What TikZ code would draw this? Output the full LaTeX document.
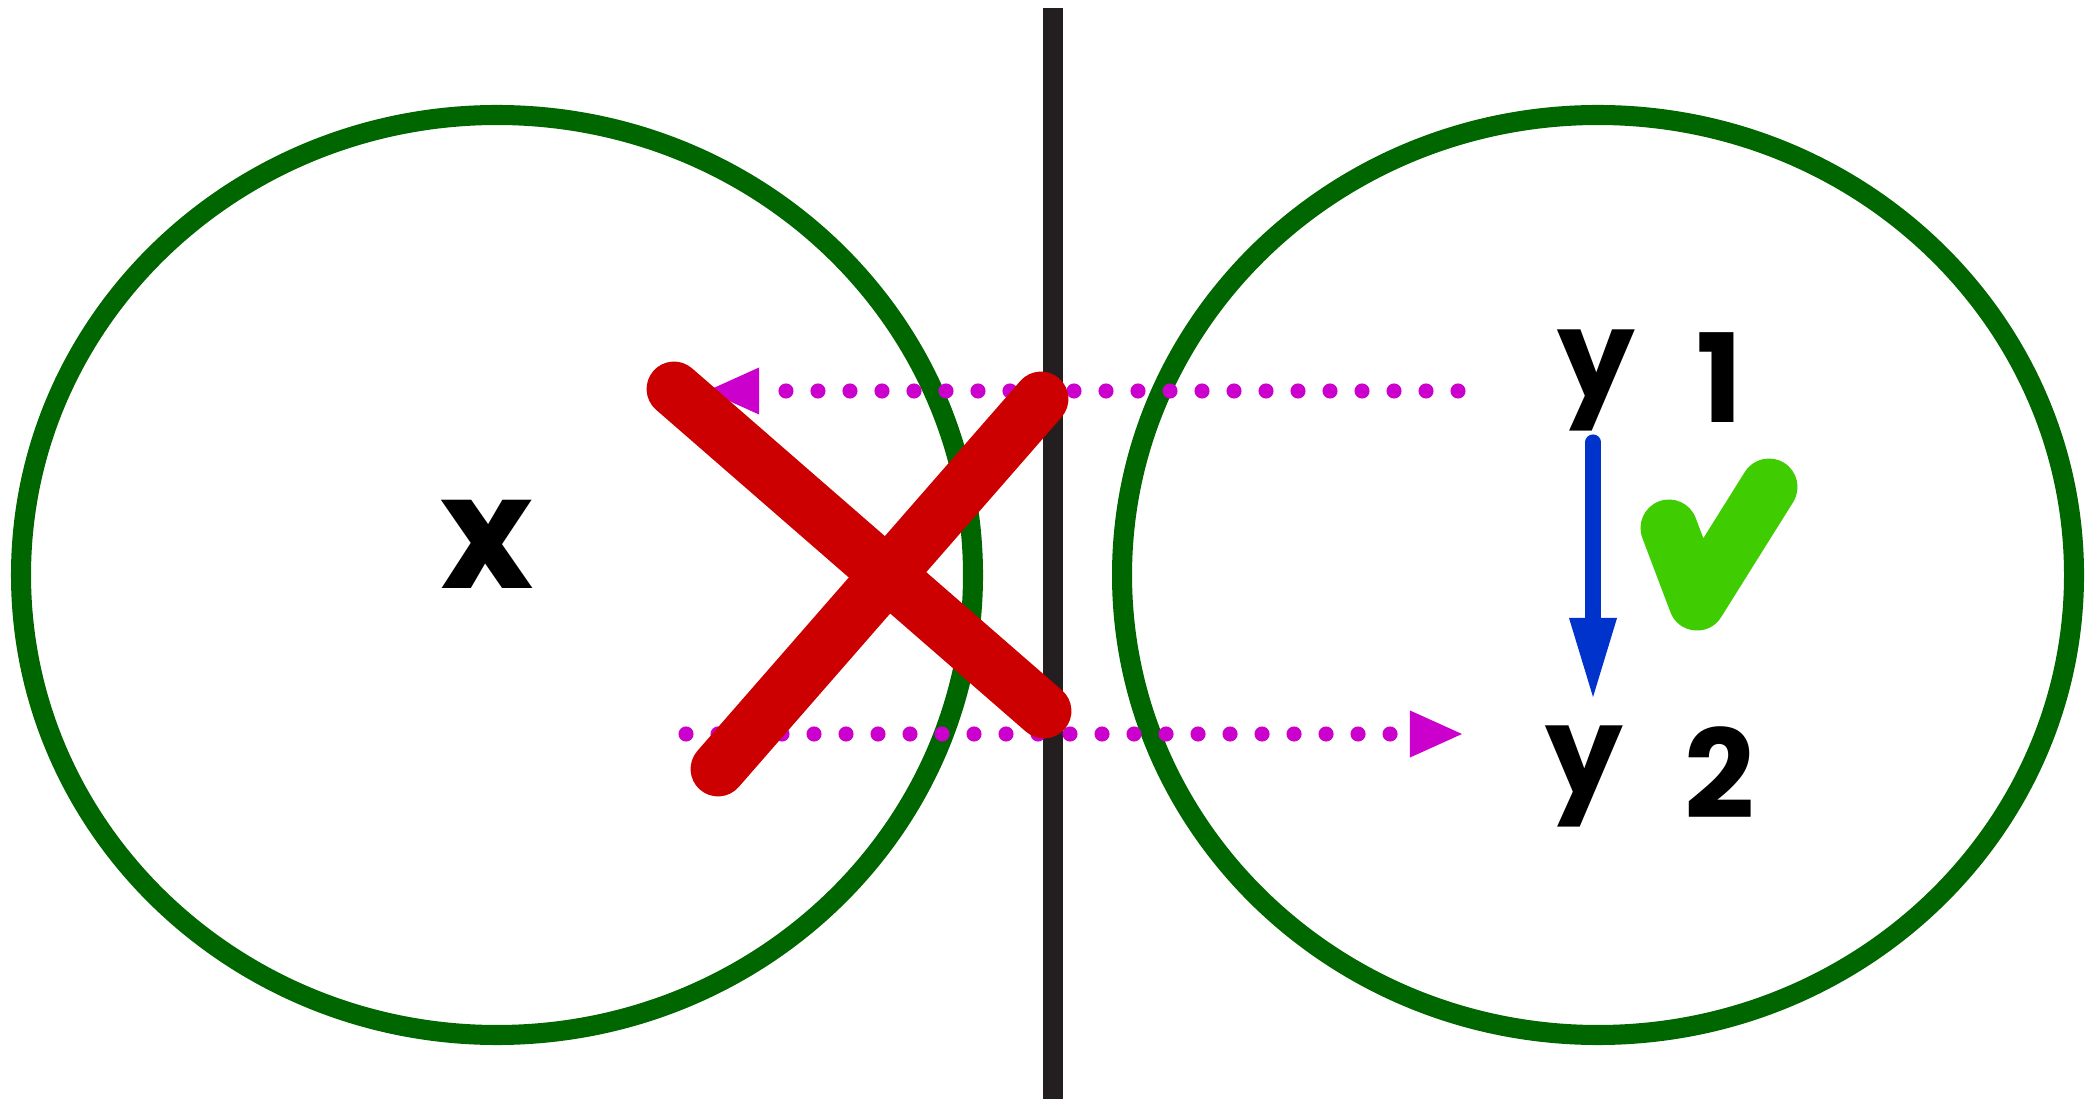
\documentclass[tikz,border=0pt]{standalone}
\usepackage{fontspec}
\setmainfont{Poppins}
\usetikzlibrary{arrows.meta,positioning}
\definecolor{setgreen}{HTML}{006600}
\definecolor{wallgray}{HTML}{231F20}
\definecolor{wrong}{HTML}{CC0000}
\definecolor{mapping}{HTML}{CC00CC}
\definecolor{flowblue}{HTML}{0033CC}
\definecolor{okgreen}{HTML}{3FCC00}

\tikzset{
  setline/.style={draw=setgreen, line width=5.7pt},
  letter/.style={font=\bfseries\fontsize{35}{42}\selectfont, inner sep=0pt},
  mapdots/.style={mapping, line width=4.3pt, line cap=round, dash pattern=on 0pt off 9.1pt,
    -{Triangle[length=0.52cm, width=0.47cm, line width=0pt]}},
  flowarrow/.style={flowblue, line width=4.3pt, line cap=round,
    -{Triangle[length=0.79cm, width=0.48cm, line width=0pt]}},
  crossline/.style={wrong, line width=15.6pt, line cap=round},
  tickline/.style={okgreen, line width=16.2pt, line cap=round, line join=round}
}

\begin{document}
\begin{tikzpicture}[x=0.01cm, y=-0.01cm]
  \useasboundingbox (0,0) rectangle (2092,1101);

  % --- Sets ---
  \draw[setline] (497,575) ellipse [x radius=476, y radius=460];
  \draw[setline] (1598,575) ellipse [x radius=476, y radius=460];

  % Wall between the two sets
  \draw[wallgray, line width=5.7pt] (1053,8) -- (1053,1099);

  % --- Labels ---
  \node[letter, font=\bfseries\fontsize{45}{52}\selectfont] (x) at (487,544) {x};
  \node[letter] (y1) at (1650,380) {\raisebox{0.2em}{y}\hspace{0.5em}1};
  \node[letter] (y2) at (1650,776) {\raisebox{0.2em}{y}\hspace{0.5em}2};

  % Dotted mappings across the wall
  \coordinate (backstart) at (1458,391);
  \coordinate (backend) at (707,391);
  \coordinate (fwdstart) at (686,734);
  \coordinate (fwdend) at (1462,734);
  \draw[mapdots] (backstart) -- (backend);
  \draw[mapdots] (fwdstart) -- (fwdend);

  % Step from y 1 to y 2
  \coordinate (flowtop) at (1593,442);
  \coordinate (flowbot) at (1593,697);
  \draw[flowarrow] (flowtop) -- (flowbot);

  % Red cross over the crossing
  \draw[crossline] (674,389) -- (1044,711);
  \draw[crossline] (718,769) -- (1041,399);

  % Checkmark
  \draw[tickline] (1669,528) -- (1697,602) -- (1769,487);
\end{tikzpicture}
\end{document}
